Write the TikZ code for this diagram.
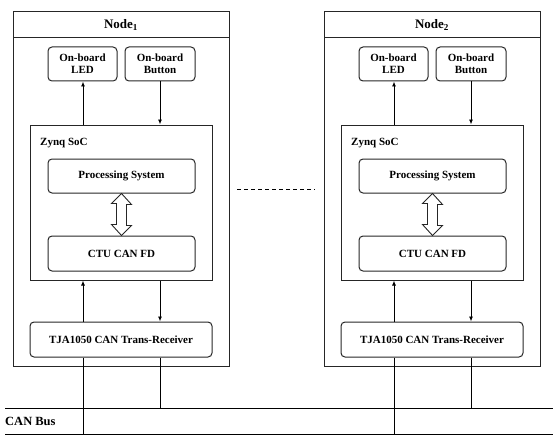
\documentclass[tikz,border=0pt]{standalone}
\usepackage{fontspec}
\setmainfont{Liberation Serif}
\usetikzlibrary{arrows.meta,calc}
\begin{document}
\begin{tikzpicture}[x=1pt,y=-1pt,
  frame/.style={draw=black!85, line width=1pt},
  rbox/.style={draw=black!85, line width=1pt, rounded corners=4pt, align=center, font=\fontsize{11}{12}\selectfont\bfseries, inner sep=0pt},
  conn/.style={line width=0.9pt, -{Latex[length=5pt,width=4pt]}},
  wire/.style={line width=0.9pt},
  title/.style={font=\fontsize{13}{14}\selectfont\bfseries}]
\useasboundingbox (0,0) rectangle (553,441);
\foreach \i/\dx in {1/0,2/311}{
  \begin{scope}[xshift=\dx]
    \node[frame, minimum width=216, minimum height=354, inner sep=0pt] (outer\i) at (121,189) {};
    \coordinate (hl\i) at (13,38);
    \coordinate (hr\i) at (229,38);
    \draw[frame] (hl\i) -- (hr\i);
    \node[title] (title\i) at (121,25) {Node\textsubscript{\i}};
    \node[rbox, minimum width=69, minimum height=34] (led\i) at (82.5,64) {On-board\\LED};
    \node[rbox, minimum width=70, minimum height=34] (btn\i) at (160,64) {On-board\\Button};
    \node[frame, minimum width=182, minimum height=155, inner sep=0pt] (zynq\i) at (121,202.5) {};
    \node[font=\fontsize{11}{12}\selectfont\bfseries, anchor=west, inner sep=0pt] (zl\i) at (40,143) {Zynq SoC};
    \node[rbox, minimum width=147, minimum height=34] (ps\i) at (121.5,176) {Processing System};
    \node[rbox, minimum width=147, minimum height=35] (ctu\i) at (121.5,253.5) {CTU CAN FD};
    \node[rbox, minimum width=182, minimum height=35] (trx\i) at (121,339.5) {TJA1050 CAN Trans-Receiver};
    \draw[frame, line width=0.9pt, fill=white] (ps\i.south) -- ++(10,11) -- ++(-5,0) -- ++(0,21) -- ++(5,0)
      -- (ctu\i.north) -- ++(-10,-11) -- ++(5,0) -- ++(0,-21) -- ++(-5,0) -- cycle;
    \draw[conn] (zynq\i.north -| 83,0) -- (led\i.south -| 83,0);
    \draw[conn] (btn\i.south) -- (btn\i.south |- zynq\i.north);
    \draw[conn] (trx\i.north -| 83,0) -- (zynq\i.south -| 83,0);
    \draw[conn] (zynq\i.south -| 160,0) -- (trx\i.north -| 160,0);
    \coordinate (busA\i) at (160,408);
    \coordinate (busB\i) at (83,434);
    \draw[wire] (trx\i.south -| busA\i) -- (busA\i);
    \draw[wire] (trx\i.south -| busB\i) -- (busB\i);
  \end{scope}
}
\coordinate (bus1l) at (5,408);
\coordinate (bus1r) at (553,408);
\coordinate (bus2l) at (5,434);
\coordinate (bus2r) at (553,434);
\draw[wire] (bus1l) -- (bus1r);
\draw[wire] (bus2l) -- (bus2r);
\node[font=\fontsize{12.5}{13}\selectfont\bfseries, anchor=west, inner sep=0pt] (canbus) at (5,421.5) {CAN Bus};
\coordinate (dl) at (237,189);
\coordinate (dr) at (315,189);
\draw[line width=0.8pt, dash pattern=on 4pt off 3pt] (dl) -- (dr);
\end{tikzpicture}
\end{document}
